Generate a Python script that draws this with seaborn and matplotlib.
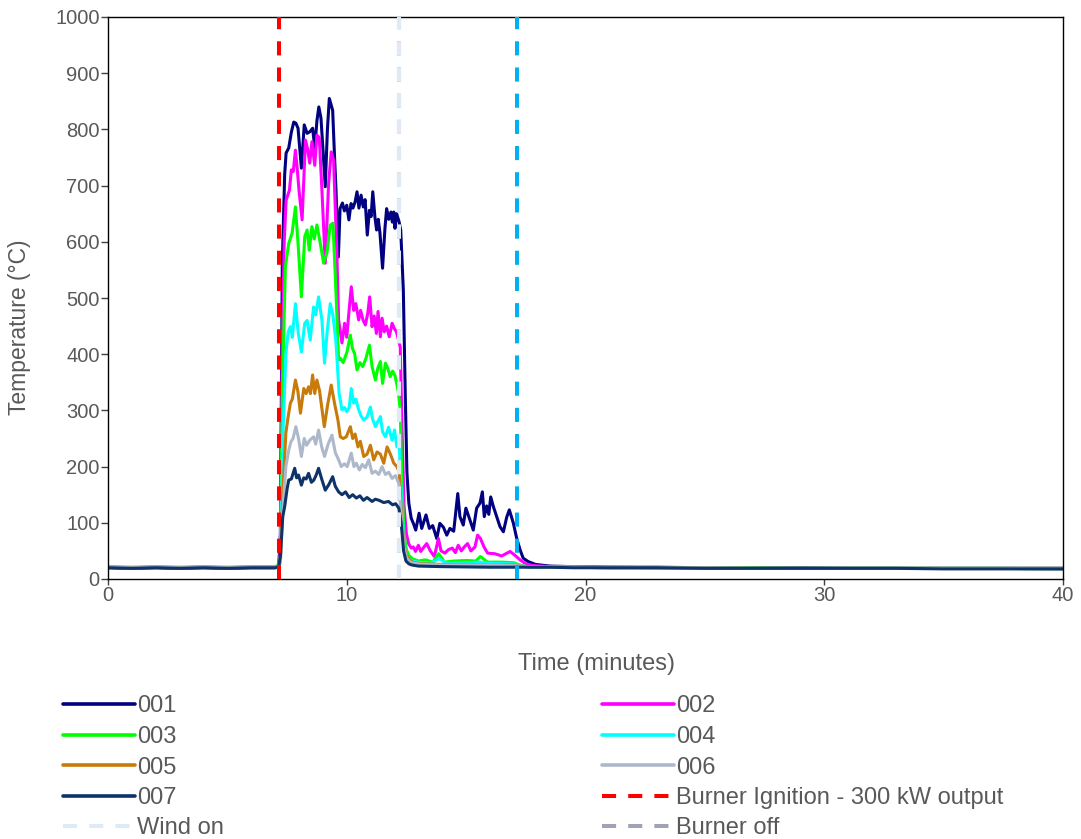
import matplotlib
matplotlib.use("Agg")
import matplotlib.pyplot as plt
from matplotlib.lines import Line2D
import seaborn as sns
import pandas as pd

# ---------------- data ----------------
pre_t = [0, 1, 2, 3, 4, 5, 6, 7.0, 7.15]
post_t = [18.5, 19.5, 21, 23, 25, 27, 29, 31, 33, 35, 37, 40]

t001 = [7.22, 7.3, 7.4, 7.46, 7.57, 7.68, 7.78, 7.87, 7.96, 8.10, 8.22, 8.34, 8.46, 8.57,
        8.66, 8.75, 8.83, 8.92, 9.01, 9.10, 9.19, 9.27, 9.41, 9.48, 9.55, 9.65, 9.72, 9.82,
        9.90, 10.0, 10.09, 10.18, 10.26, 10.35, 10.43, 10.51, 10.6, 10.69, 10.77, 10.86,
        10.95, 11.02, 11.09, 11.18, 11.25, 11.32, 11.39, 11.5, 11.6, 11.67, 11.76, 11.85,
        11.91, 11.97, 12.02, 12.09, 12.19, 12.26, 12.37, 12.45, 12.52, 12.6, 12.7, 12.79,
        12.89, 13.03, 13.14, 13.32, 13.46, 13.6, 13.77, 13.9, 14.05, 14.19, 14.32, 14.48,
        14.65, 14.74, 14.88, 14.99, 15.16, 15.3, 15.44, 15.58, 15.68, 15.76, 15.86, 15.95,
        16.03, 16.14, 16.28, 16.42, 16.56, 16.7, 16.81, 16.98, 17.12, 17.26, 17.39, 17.6, 17.9]
v001 = [80, 560, 720, 758, 767, 795, 813, 811, 802, 731, 808, 793, 796, 802,
        767, 815, 840, 820, 760, 698, 800, 855, 834, 760, 692, 573, 659, 669,
        655, 665, 639, 668, 660, 671, 689, 660, 683, 662, 675, 612,
        656, 645, 689, 644, 621, 640, 616, 553, 624, 659, 640, 653,
        635, 653, 624, 650, 636, 621, 514, 330, 190, 135, 108, 99,
        87, 117, 90, 114, 90, 95, 72, 99, 92, 78, 90, 85,
        152, 111, 96, 126, 105, 87, 126, 135, 155, 111, 130, 115,
        146, 129, 111, 93, 84, 110, 123, 99, 72, 52, 37, 31, 26]
pre001 = [20, 19, 20, 19, 20, 19, 20, 20, 22]
post001 = [23, 22, 21, 21, 20, 20, 20, 19, 19, 19, 19, 19]

t002 = [7.22, 7.3, 7.38, 7.46, 7.6, 7.68, 7.76, 7.85, 7.92, 8.0, 8.13, 8.27, 8.36, 8.45,
        8.54, 8.66, 8.75, 8.85, 8.96, 9.1, 9.24, 9.35, 9.45, 9.59, 9.66, 9.73, 9.8, 9.91,
        10.0, 10.11, 10.19, 10.29, 10.38, 10.5, 10.58, 10.68, 10.78, 10.88, 10.96, 11.06,
        11.15, 11.24, 11.31, 11.41, 11.48, 11.57, 11.67, 11.78, 11.9, 12.0, 12.08, 12.17,
        12.24, 12.32, 12.4, 12.5, 12.6, 12.7, 12.79, 12.88, 13.0, 13.1, 13.2, 13.35, 13.5,
        13.67, 13.84, 13.95, 14.11, 14.25, 14.42, 14.55, 14.67, 14.8, 14.92, 15.06, 15.2,
        15.37, 15.48, 15.6, 15.75, 15.9, 16.2, 16.49, 16.84, 17.05, 17.26, 17.5, 17.8]
v002 = [50, 420, 600, 674, 692, 728, 725, 763, 733, 692, 639, 781, 765, 740,
        778, 736, 790, 785, 692, 562, 704, 760, 745, 573, 461, 440, 420, 455,
        430, 484, 520, 478, 490, 461, 478, 461, 452, 473, 502, 449,
        468, 437, 476, 431, 464, 440, 450, 431, 455, 445, 440, 425,
        413, 260, 130, 80, 62, 55, 57, 49, 60, 49, 55, 63, 50,
        40, 72, 50, 46, 52, 55, 47, 60, 50, 57, 63, 50,
        57, 78, 72, 57, 46, 45, 41, 49, 42, 34, 27, 24]
pre002 = [21, 20, 21, 20, 21, 20, 21, 21, 24]
post002 = [22, 21, 21, 20, 20, 20, 19, 19, 19, 19, 19, 19]

t003 = [7.22, 7.3, 7.43, 7.57, 7.71, 7.85, 7.96, 8.1, 8.24, 8.34, 8.43, 8.54, 8.64, 8.75,
        8.88, 9.03, 9.17, 9.31, 9.42, 9.52, 9.66, 9.73, 9.85, 10.01, 10.15, 10.24, 10.33,
        10.43, 10.55, 10.67, 10.8, 10.95, 11.06, 11.2, 11.3, 11.41, 11.5, 11.62, 11.72,
        11.82, 11.92, 12.02, 12.15, 12.24, 12.32, 12.4, 12.5, 12.6, 12.75, 13.0, 13.3,
        13.6, 13.85, 14.1, 14.5, 15.0, 15.4, 15.6, 15.9, 16.5, 17.0, 17.3, 17.6]
v003 = [40, 330, 556, 597, 615, 662, 597, 502, 609, 621, 585, 627, 605, 630,
        600, 562, 580, 630, 633, 540, 390, 393, 385, 404, 434, 410, 401,
        372, 385, 378, 392, 416, 378, 354, 375, 387, 348, 384, 375,
        360, 370, 362, 336, 301, 160, 80, 52, 42, 36, 32, 34,
        30, 45, 30, 32, 33, 32, 40, 30, 30, 29, 24, 22]
pre003 = [22, 21, 22, 21, 22, 21, 22, 22, 25]
post003 = [22, 21, 21, 20, 20, 20, 19, 19, 19, 19, 19, 19]

t004 = [7.22, 7.32, 7.45, 7.55, 7.64, 7.72, 7.85, 7.97, 8.1, 8.24, 8.34, 8.47, 8.61, 8.7,
        8.82, 8.96, 9.07, 9.18, 9.31, 9.42, 9.55, 9.68, 9.8, 9.9, 10.0, 10.1, 10.19, 10.29,
        10.38, 10.5, 10.6, 10.71, 10.85, 10.99, 11.08, 11.2, 11.3, 11.41, 11.5, 11.62,
        11.75, 11.9, 12.0, 12.1, 12.2, 12.3, 12.4, 12.5, 12.6, 12.75, 13.0, 13.5, 13.85,
        14.2, 15.0, 15.6, 16.0, 17.0, 17.4, 17.7]
v004 = [35, 250, 400, 440, 449, 430, 490, 437, 404, 455, 460, 425, 484, 470,
        502, 461, 384, 440, 490, 470, 420, 330, 301, 305, 298, 305, 339, 313,
        320, 301, 290, 283, 288, 306, 285, 271, 280, 289, 262, 253,
        270, 247, 265, 235, 240, 130, 65, 42, 35, 32, 30, 28, 36,
        28, 29, 30, 28, 27, 23, 21]
pre004 = [21, 20, 21, 20, 21, 20, 21, 21, 23]
post004 = [21, 21, 20, 20, 20, 19, 19, 19, 19, 19, 19, 18]

t005 = [7.22, 7.32, 7.45, 7.55, 7.64, 7.72, 7.85, 7.95, 8.06, 8.2, 8.3, 8.4, 8.48, 8.57,
        8.66, 8.75, 8.86, 9.06, 9.2, 9.35, 9.5, 9.63, 9.73, 9.85, 9.98, 10.15, 10.25,
        10.35, 10.47, 10.57, 10.71, 10.85, 10.99, 11.13, 11.27, 11.41, 11.55, 11.69,
        11.83, 11.97, 12.1, 12.2, 12.3, 12.4, 12.5, 12.65, 12.8, 13.2, 14.0, 15.0, 16.0,
        17.0, 17.5]
v005 = [30, 150, 260, 290, 313, 320, 354, 335, 295, 339, 330, 342, 330, 363,
        330, 354, 335, 271, 310, 345, 310, 283, 253, 250, 253, 271, 250,
        258, 235, 245, 218, 222, 238, 212, 226, 222, 206, 235,
        222, 206, 200, 190, 110, 60, 42, 33, 29, 27, 26, 26, 25,
        25, 22]
pre005 = [21, 20, 21, 20, 21, 20, 21, 21, 23]
post005 = [21, 21, 20, 20, 20, 19, 19, 19, 19, 19, 19, 18]

t006 = [7.22, 7.32, 7.45, 7.57, 7.66, 7.75, 7.87, 7.98, 8.1, 8.22, 8.32, 8.45, 8.61, 8.7,
        8.82, 8.95, 9.07, 9.22, 9.38, 9.52, 9.66, 9.77, 9.9, 10.02, 10.19, 10.3, 10.4,
        10.53, 10.65, 10.78, 10.92, 11.06, 11.2, 11.34, 11.48, 11.62, 11.76, 11.9, 12.04,
        12.18, 12.3, 12.4, 12.5, 12.65, 12.8, 13.2, 14.0, 15.0, 16.0, 17.0, 17.5]
v006 = [28, 120, 200, 229, 244, 250, 271, 250, 218, 250, 238, 247, 253, 240,
        265, 235, 218, 240, 256, 225, 212, 200, 205, 200, 224, 200, 206,
        194, 204, 198, 212, 188, 192, 186, 200, 186, 190, 179, 184,
        170, 100, 55, 38, 30, 28, 26, 25, 25, 25, 24, 22]
pre006 = [21, 20, 21, 20, 21, 20, 21, 21, 23]
post006 = [21, 21, 20, 20, 20, 19, 19, 19, 19, 19, 19, 18]

t007 = [7.22, 7.32, 7.4, 7.5, 7.57, 7.68, 7.82, 7.9, 7.98, 8.1, 8.2, 8.3, 8.4, 8.52,
        8.62, 8.72, 8.82, 8.95, 9.1, 9.25, 9.41, 9.52, 9.66, 9.8, 9.95, 10.1, 10.25,
        10.4, 10.55, 10.7, 10.85, 11.06, 11.2, 11.35, 11.55, 11.75, 11.92, 12.05, 12.18,
        12.28, 12.38, 12.48, 12.6, 12.72, 13.0, 14.0, 16.0, 17.5]
v007 = [40, 111, 129, 160, 176, 178, 197, 180, 185, 167, 180, 178, 188, 172,
        176, 185, 197, 178, 158, 168, 182, 165, 155, 150, 155, 145, 150,
        144, 148, 140, 145, 138, 142, 140, 136, 138, 132, 134, 126,
        100, 50, 32, 27, 25, 23, 22, 21, 21]
pre007 = [20, 19, 20, 19, 20, 19, 20, 20, 22]
post007 = [21, 20, 20, 20, 19, 19, 19, 19, 19, 18, 18, 18]

sensors = ["001", "002", "003", "004", "005", "006", "007"]
series_t = [t001, t002, t003, t004, t005, t006, t007]
series_v = [v001, v002, v003, v004, v005, v006, v007]
series_pre = [pre001, pre002, pre003, pre004, pre005, pre006, pre007]
series_post = [post001, post002, post003, post004, post005, post006, post007]
colors = ["#000080", "#FF00FF", "#00FF00", "#00FFFF", "#C87A0A", "#ADB9CA", "#0E3368"]

event_labels = ["Burner Ignition - 300 kW output", "Wind on", "Burner off", "Wind off"]
event_times = [7.18, 12.2, 12.2, 17.15]
event_colors = ["#FF0000", "#DEEBF7", "#A0A3B5", "#00B0F0"]

# ---------------- build frame ----------------
rows = []
for name, ts, vs, pv, qv in zip(sensors, series_t, series_v, series_pre, series_post):
    tt = pre_t + ts + post_t
    vv = pv + vs + qv
    assert len(tt) == len(vv), name
    for a, b in zip(tt, vv):
        rows.append((name, a, b))
df = pd.DataFrame(rows, columns=["sensor", "time", "temp"])

# ---------------- plot ----------------
sns.set_style("white")
plt.rcParams["font.family"] = ["Liberation Sans", "DejaVu Sans"]
txt = "#595959"

fig = plt.figure(figsize=(10.81, 8.39), dpi=100)
ax = fig.add_axes([108 / 1081, 1 - 579 / 839, (1063 - 108) / 1081, (579 - 17) / 839])

pal = dict(zip(sensors, colors))
sns.lineplot(data=df, x="time", y="temp", hue="sensor", hue_order=sensors,
             palette=pal, estimator=None, sort=False, linewidth=2.2,
             legend=False, ax=ax)

dash = (3.5, 3.0)
order = [2, 1, 0, 3]  # draw burner-off under wind-on
for i in order:
    ax.axvline(event_times[i], color=event_colors[i], linewidth=2.9,
               linestyle=(0, dash), zorder=5)

ax.set_xlim(0, 40)
ax.set_ylim(0, 1000)
ax.set_xticks([0, 10, 20, 30, 40])
ax.set_yticks(range(0, 1001, 100))
for sp in ax.spines.values():
    sp.set_visible(True)
    sp.set_color("black")
    sp.set_linewidth(1.0)
ax.tick_params(axis="y", direction="out", length=5, width=1, color="#404040",
               labelsize=14.5, labelcolor=txt, pad=1, left=True)
ax.tick_params(axis="x", direction="out", length=4, width=1, color="#404040",
               labelsize=14.5, labelcolor=txt, pad=1, bottom=True)
ax.set_xlabel("Time (minutes)", fontsize=17, color=txt)
ax.set_ylabel("Temperature (°C)", fontsize=16.5, color=txt)
ax.xaxis.set_label_coords(0.511, -0.131)
ax.yaxis.set_label_coords(-0.081, 0.448)
ax.grid(False)

# ---------------- legend ----------------
h = {s: Line2D([], [], color=c, linewidth=2.6) for s, c in zip(sensors, colors)}
e = {lab: Line2D([], [], color=c, linewidth=2.9, linestyle=(0, dash))
     for lab, c in zip(event_labels, event_colors)}
col1 = [("001", h["001"]), ("003", h["003"]), ("005", h["005"]), ("007", h["007"]),
        ("Wind on", e["Wind on"])]
col2 = [("002", h["002"]), ("004", h["004"]), ("006", h["006"]),
        ("Burner Ignition - 300 kW output", e["Burner Ignition - 300 kW output"]),
        ("Burner off", e["Burner off"])]
items = col1 + col2
fig.legend([it[1] for it in items], [it[0] for it in items],
           loc="upper left", bbox_to_anchor=(63 / 1081, 1 - 695.5 / 839),
           ncol=2, frameon=False, fontsize=17, labelcolor=txt,
           handlelength=3.05, handletextpad=0.1, columnspacing=16.0,
           labelspacing=0.36, borderpad=0, borderaxespad=0)

fig.savefig("out.png", dpi=100)
